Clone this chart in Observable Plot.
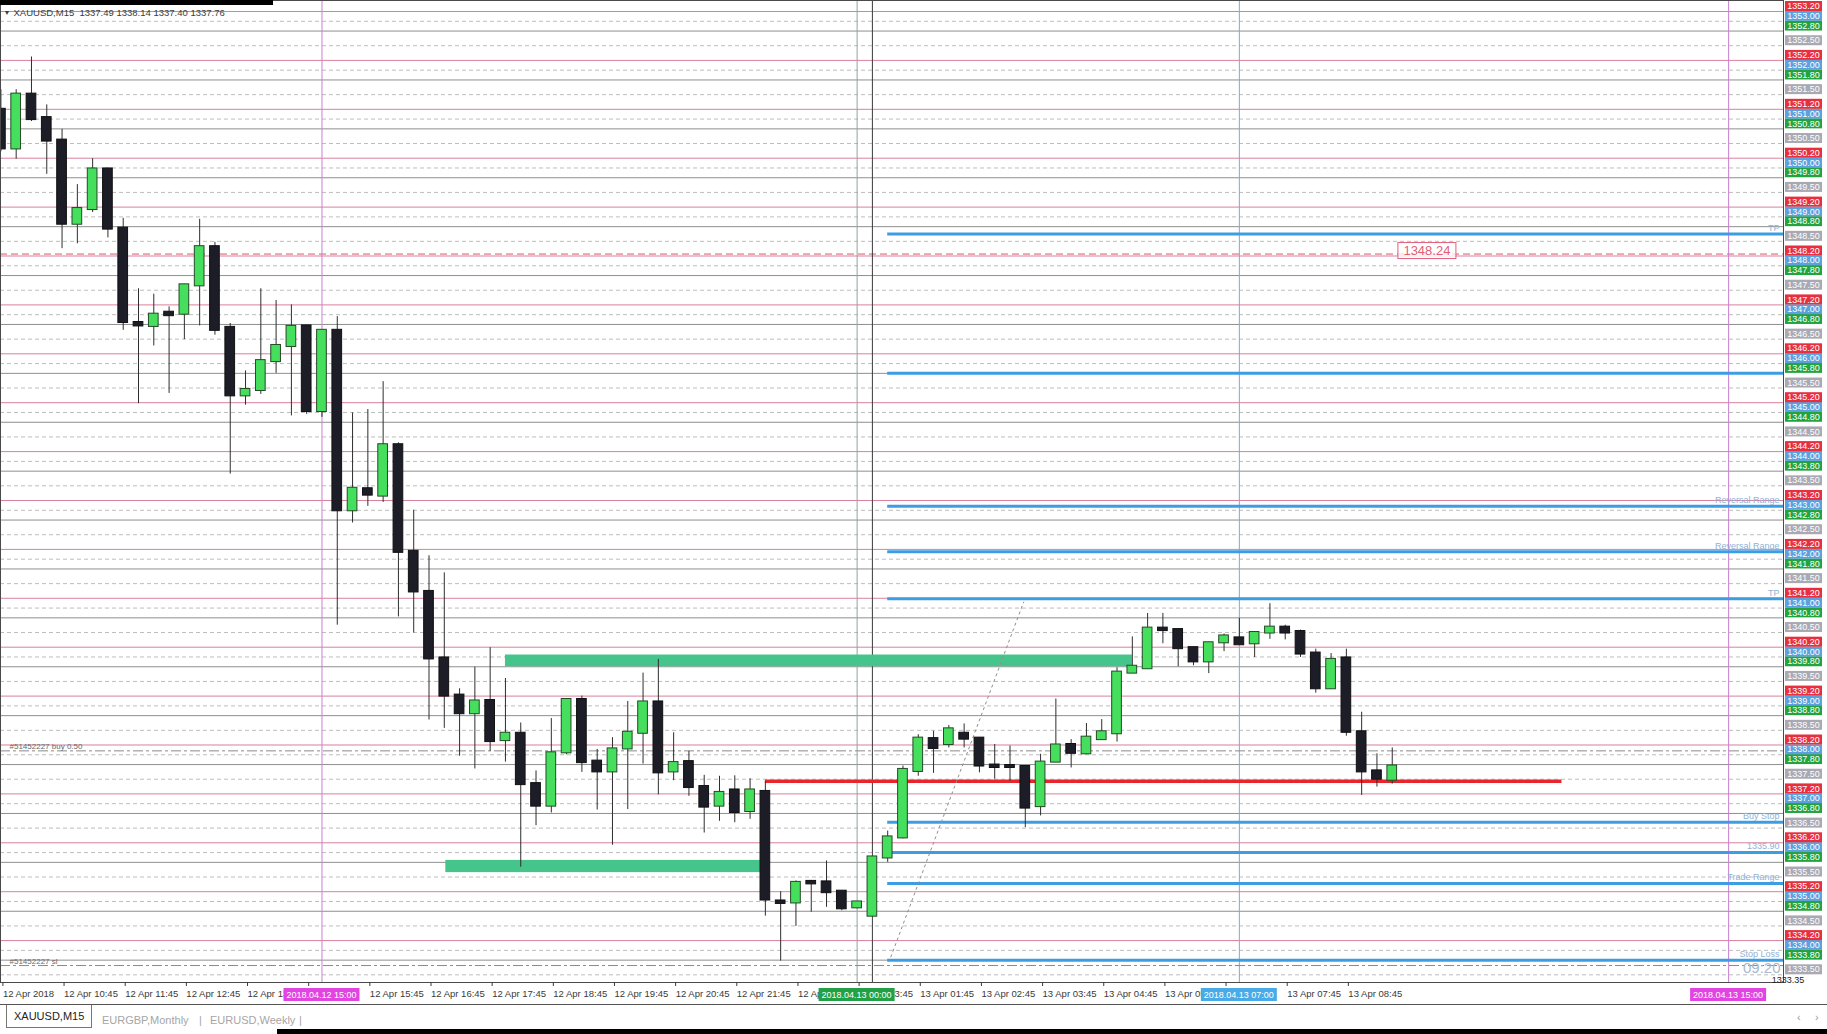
<!DOCTYPE html>
<html>
<head>
<meta charset="utf-8">
<script src="https://cdn.jsdelivr.net/npm/d3@7"></script>
<script src="https://cdn.jsdelivr.net/npm/@observablehq/plot@0.6"></script>
<style>
  html, body { margin: 0; padding: 0; background: #fff; }
  body { width: 1827px; height: 1034px; overflow: hidden; position: relative; font-family: "Liberation Sans", Arial, sans-serif; }
  #chart svg { display: block; }
  #topband { position: absolute; left: 0; top: 0; width: 273px; height: 5px; background: #000; }
  #tabs { position: absolute; left: 0; top: 1004px; width: 1827px; height: 30px; border-top: 1px solid #555; background: #fff; }
  #tabs span { position: absolute; top: 8px; font-size: 11px; line-height: 14px; color: #a6a6a6; white-space: nowrap; }
  #tabs .active { left: 6px; top: 0; height: 22px; line-height: 22px; padding: 0 7px; color: #222; border: 1px solid #777; border-top: none; background: #fff; }
  #tabs .arrow { top: 5px; font-size: 11px; color: #999; }
  #bottomband { position: absolute; left: 277px; top: 1029px; width: 1550px; height: 5px; background: #000; }
</style>
</head>
<body>
<div id="chart"></div>
<div id="topband"></div>
<div id="tabs">
  <span class="active">XAUUSD,M15</span>
  <span style="left:102px">EURGBP,Monthly</span>
  <span style="left:199px">|</span>
  <span style="left:210px">EURUSD,Weekly</span>
  <span style="left:299px">|</span>
  <span class="arrow" style="left:1797px">‹</span>
  <span class="arrow" style="left:1815px">›</span>
</div>
<div id="bottomband"></div>
<script>
// XAUUSD M15 bars, 12 Apr 09:45 .. 13 Apr 09:30 (bar index 0..91)
const symbol = "XAUUSD,M15";
const barOpen = [
  1351.19, 1350.40, 1351.50, 1351.02, 1350.56, 1348.86, 1349.16, 1349.97, 1348.76, 1346.83,
  1346.77, 1347.04, 1347.02, 1347.60, 1348.38, 1346.73, 1345.35, 1345.46, 1346.05, 1346.36,
  1346.76, 1345.03, 1346.67, 1343.00, 1343.43, 1343.30, 1344.33, 1342.15, 1341.33, 1339.97,
  1339.21, 1338.85, 1339.10, 1338.30, 1338.43, 1337.40, 1336.96, 1338.05, 1339.12, 1337.86,
  1337.66, 1338.13, 1338.45, 1339.07, 1337.66, 1337.85, 1337.34, 1336.96, 1337.27, 1336.85,
  1337.24, 1335.00, 1334.98, 1335.40, 1335.39, 1335.20, 1334.88, 1334.71, 1335.90, 1336.31,
  1337.67, 1338.32, 1338.22, 1338.43, 1338.33, 1337.78, 1337.77, 1337.75, 1336.95, 1337.86,
  1338.20, 1338.03, 1338.32, 1338.44, 1339.68, 1339.77, 1340.58, 1340.55, 1340.18, 1339.91,
  1340.30, 1340.38, 1340.28, 1340.50, 1340.60, 1340.51, 1340.07, 1339.36, 1339.97, 1338.46,
  1337.66, 1337.49
];
const barHigh = [
  1351.60, 1351.60, 1352.27, 1351.29, 1350.79, 1349.66, 1350.19, 1349.99, 1348.97, 1347.53,
  1347.42, 1347.16, 1347.62, 1348.95, 1348.48, 1346.82, 1345.85, 1347.53, 1347.29, 1347.20,
  1346.78, 1346.68, 1346.96, 1344.99, 1345.06, 1345.63, 1344.38, 1343.00, 1342.07, 1341.72,
  1339.35, 1339.79, 1340.19, 1339.56, 1338.65, 1337.67, 1338.74, 1339.14, 1339.20, 1338.11,
  1338.35, 1339.09, 1339.67, 1339.95, 1338.45, 1338.07, 1337.58, 1337.56, 1337.57, 1337.51,
  1337.45, 1335.20, 1335.42, 1335.43, 1335.83, 1335.22, 1334.99, 1335.92, 1336.44, 1337.77,
  1338.41, 1338.48, 1338.60, 1338.63, 1338.35, 1338.21, 1338.18, 1337.77, 1338.01, 1339.14,
  1338.31, 1338.64, 1338.72, 1339.78, 1340.41, 1340.89, 1340.89, 1340.57, 1340.21, 1340.30,
  1340.47, 1340.79, 1340.52, 1341.09, 1340.65, 1340.55, 1340.16, 1340.07, 1340.16, 1338.87,
  1338.02, 1338.14
];
const barLow = [
  1350.33, 1350.18, 1350.95, 1349.87, 1348.35, 1348.45, 1349.09, 1348.57, 1346.68, 1345.18,
  1346.36, 1345.39, 1346.49, 1346.77, 1346.58, 1343.74, 1345.15, 1345.37, 1345.80, 1344.93,
  1344.96, 1344.90, 1340.65, 1342.74, 1343.08, 1343.16, 1340.82, 1340.49, 1338.71, 1338.54,
  1337.97, 1337.71, 1338.07, 1337.85, 1335.70, 1336.55, 1336.81, 1338.00, 1337.64, 1336.87,
  1336.15, 1336.88, 1337.81, 1337.18, 1337.47, 1337.15, 1336.40, 1336.64, 1336.61, 1336.68,
  1334.70, 1333.78, 1334.49, 1334.78, 1334.88, 1334.81, 1334.85, 1334.68, 1335.80, 1336.28,
  1337.56, 1337.62, 1338.14, 1338.14, 1337.63, 1337.50, 1337.46, 1336.51, 1336.75, 1337.84,
  1337.73, 1338.01, 1338.30, 1338.26, 1339.66, 1339.75, 1340.27, 1339.80, 1339.82, 1339.66,
  1340.11, 1340.25, 1339.99, 1340.36, 1340.35, 1339.99, 1339.26, 1339.35, 1338.38, 1337.17,
  1337.34, 1337.40
];
const barClose = [
  1350.40, 1351.50, 1351.00, 1350.56, 1348.86, 1349.16, 1349.97, 1348.76, 1346.85, 1346.78,
  1347.00, 1346.99, 1347.60, 1348.38, 1346.69, 1345.35, 1345.46, 1346.05, 1346.36, 1346.75,
  1345.03, 1346.67, 1343.00, 1343.44, 1343.32, 1344.33, 1342.15, 1341.34, 1339.97, 1339.21,
  1338.85, 1339.09, 1338.28, 1338.43, 1337.40, 1336.96, 1338.03, 1339.12, 1337.85, 1337.66,
  1338.11, 1338.45, 1339.07, 1337.64, 1337.83, 1337.34, 1336.94, 1337.22, 1336.83, 1337.27,
  1335.04, 1334.97, 1335.38, 1335.37, 1335.19, 1334.86, 1334.98, 1335.90, 1336.31, 1337.69,
  1338.33, 1338.14, 1338.52, 1338.33, 1337.78, 1337.75, 1337.75, 1336.92, 1337.84, 1338.19,
  1338.04, 1338.35, 1338.46, 1339.68, 1339.80, 1340.58, 1340.55, 1340.18, 1339.91, 1340.28,
  1340.42, 1340.26, 1340.49, 1340.60, 1340.50, 1340.07, 1339.36, 1339.94, 1338.47, 1337.66,
  1337.51, 1337.76
];

// Horizontal level objects and their price-scale tags
const redLevels   = [1353.2, 1352.2, 1351.2, 1350.2, 1349.2, 1348.2, 1347.2, 1346.2, 1345.2, 1344.2,
                     1343.2, 1342.2, 1341.2, 1340.2, 1339.2, 1338.2, 1337.2, 1336.2, 1335.2, 1334.2];
const blueLevels  = [1353.0, 1352.0, 1351.0, 1350.0, 1349.0, 1348.0, 1347.0, 1346.0, 1345.0, 1344.0,
                     1343.0, 1342.0, 1341.0, 1340.0, 1339.0, 1338.0, 1337.0, 1336.0, 1335.0, 1334.0];
const greenLevels = [1352.8, 1351.8, 1350.8, 1349.8, 1348.8, 1347.8, 1346.8, 1345.8, 1344.8, 1343.8,
                     1342.8, 1341.8, 1340.8, 1339.8, 1338.8, 1337.8, 1336.8, 1335.8, 1334.8, 1333.8];
const grayLevels  = [1352.5, 1351.5, 1350.5, 1349.5, 1348.5, 1347.5, 1346.5, 1345.5, 1344.5, 1343.5,
                     1342.5, 1341.5, 1340.5, 1339.5, 1338.5, 1337.5, 1336.5, 1335.5, 1334.5, 1333.5];

// Trade plan lines (drawn from the bar where they were placed to the right edge)
const targetPrices = [1348.65, 1345.80, 1343.08, 1342.15, 1341.19, 1336.62, 1336.00, 1335.37, 1333.80];
const targetNames  = ["TP", "", "Reversal Range", "Reversal Range", "TP", "Buy Stop", "1335.90", "Trade Range", "Stop Loss"];
const targetStartBar = 58;

// Supply / demand zones
const zoneFromBar = [33, 29.1];
const zoneToBar   = [74, 49.7];
const zoneLow     = [1339.80, 1335.59];
const zoneHigh    = [1340.04, 1335.84];

// Entry level
const entryPrice = 1337.46, entryFromBar = 50, entryToBar = 102.1;

// Open order and its stop
const orderPrices = [1338.08, 1333.69];
const orderNames  = ["#51452227 buy 0.50", "#51452227 sl"];

// Alert level with its tag
const alertPrice = 1348.24, alertTagBar = 93.3;

// Trend line
const trendBars   = [58.2, 66.9];
const trendPrices = [1333.86, 1341.13];

// Vertical time markers
const markerBars   = [21, 56, 57, 81, 113];
const markerLabels = ["2018.04.12 15:00", "2018.04.13 00:00", "", "2018.04.13 07:00", "2018.04.13 15:00"];
const markerColors = ["#c97fd2", "#94a3a3", "#3a3a3a", "#80a9cf", "#c97fd2"];
const markerTagColors = ["#e244e2", "#22a046", "", "#48aae6", "#e244e2"];

// Time axis
const tickBars   = [0, 4, 8, 12, 16, 20, 24, 28, 32, 36, 40, 44, 48, 52, 56, 60, 64, 68, 72, 76, 80, 84, 88];
const tickLabels = ["12 Apr 2018", "12 Apr 10:45", "12 Apr 11:45", "12 Apr 12:45", "12 Apr 13:45", "12 Apr 14:45",
  "12 Apr 15:45", "12 Apr 16:45", "12 Apr 17:45", "12 Apr 18:45", "12 Apr 19:45", "12 Apr 20:45", "12 Apr 21:45",
  "12 Apr 22:45", "12 Apr 23:45", "13 Apr 01:45", "13 Apr 02:45", "13 Apr 03:45", "13 Apr 04:45", "13 Apr 05:45",
  "13 Apr 06:45", "13 Apr 07:45", "13 Apr 08:45"];

const chartLow = 1333.35;
const countdown = "09:20";

// ---- tables built from the arrays above ----
const candles = barOpen.map((o, i) => ({i, open: o, high: barHigh[i], low: barLow[i], close: barClose[i]}));
const targets = targetPrices.map((p, i) => ({price: p, name: targetNames[i]}));
const zones = zoneFromBar.map((f, i) => ({from: f, to: zoneToBar[i], lo: zoneLow[i], hi: zoneHigh[i]}));
const orders = orderPrices.map((p, i) => ({price: p, name: orderNames[i]}));
const markers = markerBars.map((b, i) => ({bar: b, label: markerLabels[i], color: markerColors[i], tag: markerTagColors[i]}));
const last = candles[candles.length - 1];
const header = `${symbol}  ${last.open.toFixed(2)} ${last.high.toFixed(2)} ${last.low.toFixed(2)} ${last.close.toFixed(2)}`;

// a tick label sitting right under a time tag is hidden by that tag
const taggedBars = markers.filter(m => m.label).map(m => m.bar);
const tickText = d => taggedBars.includes(d + 1) ? "" : tickLabels[tickBars.indexOf(d)];

const xDomain = [-0.026, 116.59];
const yDomain = [1333.343, 1353.425];
const FONT = "Liberation Sans, Arial, sans-serif";

// Coloured price tags on the right-hand scale, the time tags under the axis and the alert tag
function tags(index, scales, values, dim) {
  const {x, y} = scales;
  const g = d3.create("svg:g").attr("font-family", FONT);
  const x0 = dim.width - dim.marginRight + 2;
  const groups = [[grayLevels, "#a9a9b3"], [greenLevels, "#23a33d"], [blueLevels, "#5ca0dd"], [redLevels, "#e6303f"]];
  for (const [levels, color] of groups) {
    for (const p of levels) {
      const cy = y(p) - 5;
      g.append("rect").attr("x", x0).attr("y", cy - 5).attr("width", 37).attr("height", 10).attr("fill", color);
      g.append("text").attr("x", x0 + 18.5).attr("y", cy).attr("dy", "0.35em")
        .attr("text-anchor", "middle").attr("font-size", 9).attr("fill", "#fff").text(p.toFixed(2));
    }
  }
  g.append("text").attr("x", x0 + 3).attr("y", y(chartLow) - 2).attr("dy", "0.35em")
    .attr("font-size", 9).attr("fill", "#222").text(chartLow.toFixed(2));

  const ty = dim.height - dim.marginBottom + 6;
  for (const m of markers) {
    if (!m.label) continue;
    const cx = x(m.bar);
    g.append("rect").attr("x", cx - 38).attr("y", ty).attr("width", 76).attr("height", 13).attr("fill", m.tag);
    g.append("text").attr("x", cx).attr("y", ty + 6.5).attr("dy", "0.35em").attr("text-anchor", "middle")
      .attr("font-size", 9).attr("fill", "#fff").text(m.label);
  }

  const ax = x(alertTagBar), ay = y(alertPrice) - 3;
  g.append("rect").attr("x", ax - 29).attr("y", ay - 8).attr("width", 58).attr("height", 16)
    .attr("fill", "#fff").attr("fill-opacity", 0.75).attr("stroke", "#e0607a");
  g.append("text").attr("x", ax).attr("y", ay).attr("dy", "0.35em").attr("text-anchor", "middle")
    .attr("font-size", 13).attr("fill", "#e0607a").text(alertPrice.toFixed(2));
  return g.node();
}

const chart = Plot.plot({
  width: 1827,
  height: 1004,
  marginTop: 0,
  marginBottom: 22,
  marginLeft: 0,
  marginRight: 44,
  style: {background: "#fff", fontFamily: FONT, fontSize: "9.5px", overflow: "hidden"},
  x: {type: "linear", domain: xDomain, axis: null},
  y: {type: "linear", domain: yDomain, axis: null},
  marks: [
    // level grid
    Plot.ruleY(blueLevels, {stroke: "#bdbdbd", strokeDasharray: "4,3"}),
    Plot.ruleY(grayLevels, {stroke: "#bdbdbd", strokeDasharray: "4,3"}),
    Plot.ruleY(greenLevels, {stroke: "#8f8f8f"}),
    Plot.ruleY(redLevels, {stroke: "#d9819b"}),
    Plot.ruleY([alertPrice], {stroke: "#d8566f", strokeDasharray: "7,4"}),
    // time markers
    Plot.ruleX(markers, {x: "bar", stroke: "color", strokeDasharray: d => d.label ? null : "3,2"}),
    // zones
    Plot.rect(zones, {x1: "from", x2: "to", y1: "lo", y2: "hi", fill: "#45c58b"}),
    // trade plan
    Plot.ruleY(targets, {y: "price", x1: targetStartBar, x2: xDomain[1], stroke: "#3d9de3", strokeWidth: 3}),
    Plot.ruleY([entryPrice], {x1: entryFromBar, x2: entryToBar, stroke: "#e8242c", strokeWidth: 3.5}),
    Plot.ruleY(orders, {y: "price", stroke: "#8a8a8a", strokeDasharray: "10,3,3,3"}),
    Plot.link([0], {x1: () => trendBars[0], y1: () => trendPrices[0], x2: () => trendBars[1], y2: () => trendPrices[1],
      stroke: "#8f8f8f", strokeDasharray: "3,3"}),
    // candles
    Plot.ruleX(candles, {x: "i", y1: "low", y2: "high", stroke: "#2e2e2e"}),
    Plot.rect(candles, {
      x1: d => d.i - 0.5, x2: d => d.i + 0.5, y1: "open", y2: "close",
      insetLeft: 2.8, insetRight: 2.8, insetTop: -1, insetBottom: -1,
      fill: d => d.close >= d.open ? "#45de5d" : "#1c1d27",
      stroke: d => d.close >= d.open ? "#244a26" : "#111"
    }),
    // labels
    Plot.text(targets, {y: "price", text: "name", frameAnchor: "right", textAnchor: "end", dx: -4, dy: -6,
      fill: "#90b2d6", fontSize: 9}),
    Plot.text(orders, {y: "price", text: "name", frameAnchor: "left", textAnchor: "start", dx: 9, dy: -4,
      fill: "#6a6a6a", fontSize: 8}),
    Plot.text([header], {frameAnchor: "top-left", text: d => d, dx: 13, dy: 12, lineAnchor: "middle",
      textAnchor: "start", fill: "#3c3c3c", fontSize: 9.5}),
    Plot.text(["▼"], {frameAnchor: "top-left", text: d => d, dx: 3, dy: 12, lineAnchor: "middle",
      textAnchor: "start", fill: "#3c3c3c", fontSize: 7}),
    Plot.text([countdown], {frameAnchor: "bottom-right", text: d => d, dx: -3, dy: -10, lineAnchor: "bottom",
      textAnchor: "end", fill: "#a8b9d0", fontSize: 15}),
    Plot.frame({stroke: "#4a4a4a"}),
    Plot.axisX(tickBars, {anchor: "bottom", tickFormat: tickText, textAnchor: "start",
      tickSize: 4, tickPadding: 4, dx: 2, color: "#3a3a3a", fontSize: 9.5}),
    tags
  ]
});
document.getElementById("chart").appendChild(chart);
</script>
</body>
</html>
